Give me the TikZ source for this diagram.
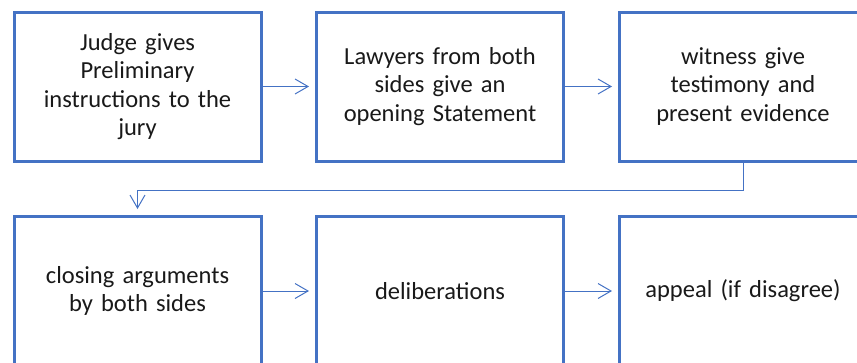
\documentclass[tikz,border=0pt]{standalone}
\usepackage{fontspec}
\setmainfont{Carlito}
\usetikzlibrary{arrows.meta}
\definecolor{bl}{HTML}{4472C4}
\begin{document}
\begin{tikzpicture}[x=1pt,y=1pt,
  box/.style={draw=bl,line width=3pt,minimum width=247pt,minimum height=149pt,
    align=center,text width=235pt,inner sep=0pt,
    font=\fontsize{24.5pt}{28.5pt}\selectfont,text=black!90},
  arr/.style={draw=bl,line width=1pt,shorten >=6pt,-{Straight Barb[length=13pt,width=15pt,line width=1pt]}}]
\useasboundingbox (0,0) rectangle (857,-362);
\node[box] (b1) at (137.5,-86.5) {Judge gives\\Preliminary\\instructions to the\\jury};
\node[box] (b2) at (440,-86.5) {Lawyers from both\\sides give an\\opening Statement};
\node[box] (b3) at (743,-86.5) {witness give\\testimony and\\present evidence};
\node[box] (b4) at (137.5,-291) {closing arguments\\by both sides};
\node[box] (b5) at (440,-291) {deliberations};
\node[box] (b6) at (743,-291) {appeal (if disagree)};
\draw[arr] (b1) -- (b2);
\draw[arr] (b2) -- (b3);
\coordinate (c) at (743,-190);
\draw[arr] (b3.south) -- (c) -| (b4.north);
\draw[arr] (b4) -- (b5);
\draw[arr] (b5) -- (b6);
\end{tikzpicture}
\end{document}
